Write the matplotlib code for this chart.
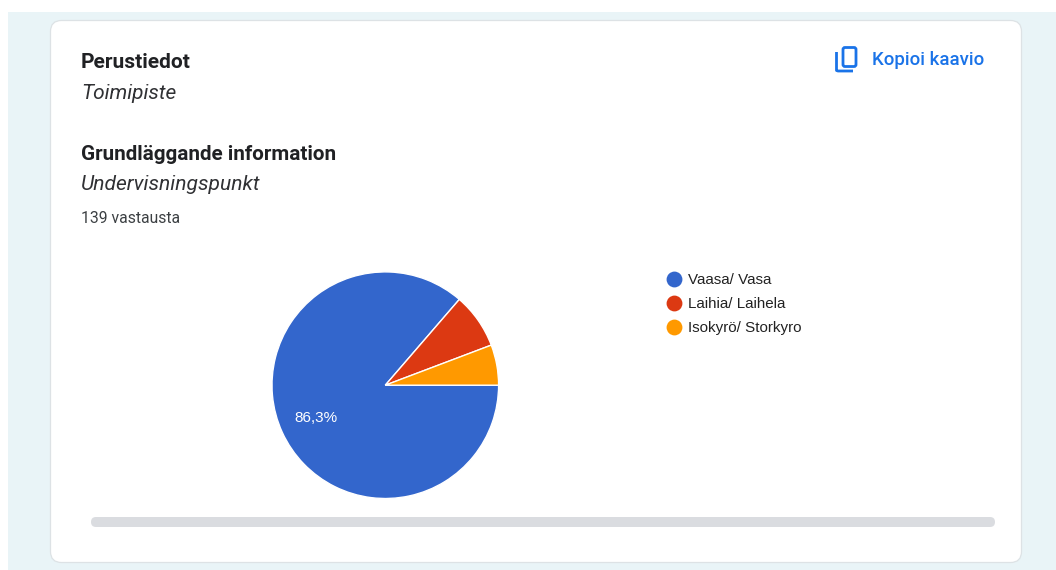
import matplotlib
matplotlib.use("Agg")
import matplotlib.pyplot as plt
from matplotlib.patches import FancyBboxPatch, Rectangle
from matplotlib.lines import Line2D

categories = ["Vaasa/ Vasa", "Laihia/ Laihela", "Isokyrö/ Storkyro"]
responses = [120, 11, 8]
colors = ["#3366CC", "#DC3912", "#FF9900"]
total = sum(responses)

W, H = 1056, 570
fig = plt.figure(figsize=(W / 100, H / 100), dpi=100, facecolor="white")

# Page layer in pixel coordinates
page = fig.add_axes([0, 0, 1, 1])
page.set_xlim(0, W)
page.set_ylim(H, 0)
page.axis("off")

page.add_patch(Rectangle((8, 12), W - 8, H - 12, fc="#E9F4F7", ec="none"))
page.add_patch(FancyBboxPatch((50.5, 20.5), 971, 542,
                              boxstyle="round,pad=0,rounding_size=11",
                              fc="white", ec="#DDE2E5", lw=0.9))

# Scrollbar
page.add_patch(FancyBboxPatch((91, 517), 904, 10,
                              boxstyle="round,pad=0,rounding_size=5",
                              fc="#DADCE0", ec="none"))

# Headings
ink = "#202124"
page.text(81, 62, "Perustiedot", family="Roboto", weight="bold", fontsize=15,
          color=ink, va="center", ha="left")
page.text(81, 93.5, "Toimipiste", family="Roboto", style="italic", fontsize=15,
          color="#303134", va="center", ha="left")
page.text(81, 154, "Grundläggande information", family="Roboto", weight="bold",
          fontsize=14.9, color=ink, va="center", ha="left")
page.text(81, 184, "Undervisningspunkt", family="Roboto", style="italic",
          fontsize=15.1, color="#303134", va="center", ha="left")
page.text(81, 218.5, f"{total} vastausta", family="Roboto", fontsize=11.3,
          color="#3C4043", va="center", ha="left")

# Copy button
blue = "#1A73E8"
page.add_patch(FancyBboxPatch((843, 47.5), 13, 19,
                              boxstyle="round,pad=0,rounding_size=2",
                              fc="none", ec=blue, lw=2))
page.add_line(Line2D([836.5, 836.5, 838, 853], [52, 70.5, 71, 71],
                     color=blue, lw=2, solid_capstyle="butt"))
page.text(872, 60, "Kopioi kaavio", family="Roboto", weight="medium",
          fontsize=13.4, color=blue, va="center", ha="left")

# Legend
for y, name, c in zip([279, 303, 327], categories, colors):
    page.add_line(Line2D([673.7], [y], marker="o", ms=11.4, mfc=c, mec="none", ls="none"))
    page.text(688, y + 0.8, name, family="Liberation Sans", fontsize=10.9,
              color="#222222", va="center", ha="left")

# Pie
cx, cy, r = 385.3, 385.2, 113.3
pie_ax = fig.add_axes([(cx - r) / W, 1 - (cy + r) / H, 2 * r / W, 2 * r / H])


def share_label(pct):
    return f"{pct:.1f}%".replace(".", ",") if pct > 10 else ""


_, _, autotexts = pie_ax.pie(
    responses, colors=colors, startangle=0, counterclock=False, radius=1,
    autopct=share_label, pctdistance=0.67,
    wedgeprops={"edgecolor": "white", "linewidth": 1.0},
)
for t in autotexts:
    t.set(color="white", family="Liberation Sans", fontsize=11)
    t.set_y(t.get_position()[1] - 0.01)
pie_ax.set_xlim(-1, 1)
pie_ax.set_ylim(-1, 1)

fig.savefig("out.png", dpi=100)
